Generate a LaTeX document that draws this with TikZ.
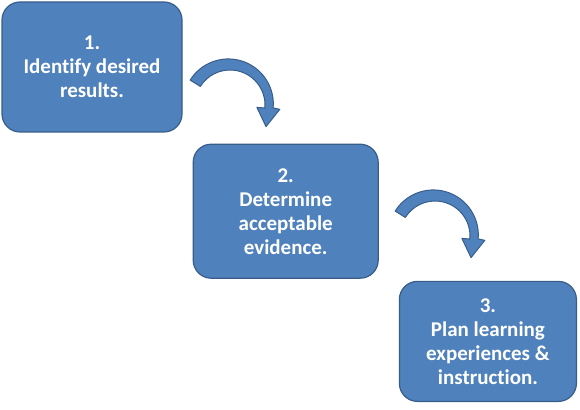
\documentclass[tikz,border=0pt]{standalone}
\usepackage{fontspec}
\setmainfont{Carlito}[Ligatures=NoCommon]
\usetikzlibrary{positioning}
\definecolor{boxblue}{RGB}{79,129,189}
\definecolor{boxline}{RGB}{56,93,138}

\newcommand{\bendarrow}[1]{%
  \filldraw[bendstyle,shift={(#1)}] (148:47) arc[start angle=148,end angle=-5,radius=45]
    -- (-5:50) -- (-31:42) -- (-5:27) -- (-5:35) arc[start angle=-5,end angle=148,radius=35] -- cycle;}

\begin{document}
\begin{tikzpicture}[x=1pt,y=1pt,
  stage/.style={rectangle,rounded corners=18pt,draw=boxline,line width=1.2pt,fill=boxblue,
    text=white,font=\bfseries\fontsize{21}{24}\selectfont,align=center,inner sep=0pt},
  bendstyle/.style={draw=boxline,line width=1pt,fill=boxblue,line join=round}]
  \useasboundingbox (0,0) rectangle (580,409);
  \node[stage,minimum width=180pt,minimum height=130pt] (1) at (92,342) {1.\\Identify desired\\results.};
  \node[stage,minimum width=185pt,minimum height=134pt] (2) [below right=11pt and 10pt of 1] {2.\\Determine\\acceptable\\evidence.};
  \node[stage,minimum width=177pt,minimum height=120pt] (3) [below right=2pt and 20pt of 2] {3.\\Plan learning\\experiences \&\\instruction.};

  % curved arrows between the steps
  \coordinate (a1) at (230,304);
  \coordinate (a2) at (435,173);
  \bendarrow{a1}
  \bendarrow{a2}
\end{tikzpicture}
\end{document}
